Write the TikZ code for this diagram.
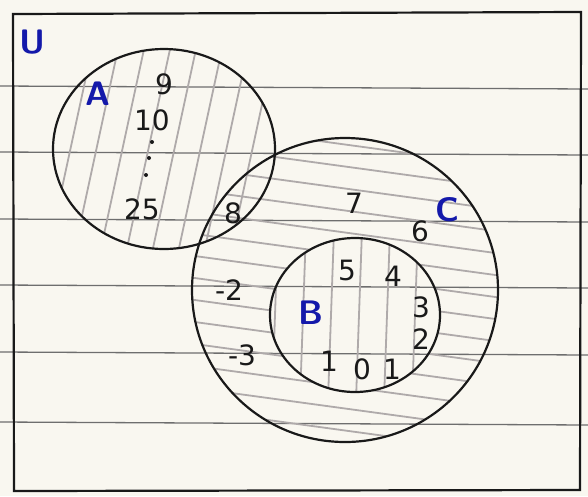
\documentclass[tikz,border=0pt]{standalone}
\usepackage{fontspec}
\newfontfamily\handfont{DejaVu Sans}
\usetikzlibrary{calc}
\definecolor{paper}{RGB}{249,247,240}
\definecolor{ink}{RGB}{25,25,25}
\definecolor{penblue}{RGB}{20,25,170}
\definecolor{rulegray}{RGB}{110,110,110}
\definecolor{hatchgray}{RGB}{175,170,170}
\tikzset{
  rule/.style={rulegray, line width=1.3pt},
  outline/.style={ink, line width=2.2pt},
  hatch/.style={hatchgray, line width=1.8pt},
  num/.style={ink, font=\fontsize{28}{28}\handfont, inner sep=0pt},
  setname/.style={penblue, font=\fontsize{34}{34}\selectfont\sffamily\bfseries, inner sep=0pt},
}
\begin{document}
\begin{tikzpicture}[x=1pt,y=-1pt]
\useasboundingbox (0,0) rectangle (588,496);
\fill[paper] (0,0) rectangle (588,496);
% ruled notebook lines
\foreach \yy in {86,152,219,285,352,422} \draw[rule] (0,\yy) -- (588,\yy+3);
% hatching of A
\begin{scope}
  \clip (164,149) ellipse [x radius=111pt, y radius=100pt];
  \foreach \xx in {20,46,...,320} \draw[hatch] (\xx,262) -- (\xx+48,40);
\end{scope}
% hatching of C without B
\begin{scope}[even odd rule]
  \clip (345,290) ellipse [x radius=153pt, y radius=152pt]
        (355,315) ellipse [x radius=85pt, y radius=77pt];
  \foreach \yy in {100,122,...,470} \draw[hatch] (180,\yy) -- (510,\yy+45);
\end{scope}
% hatching of B
\begin{scope}
  \clip (355,315) ellipse [x radius=85pt, y radius=77pt];
  \foreach \xx in {272,300,...,440} \draw[hatch] (\xx,400) -- (\xx+6,230);
\end{scope}
% universe
\draw[outline] (13,14) -- (581,12) -- (580,490) -- (14,491) -- cycle;
% sets
\draw[outline] (164,149) ellipse [x radius=111pt, y radius=100pt];
\draw[outline] (345,290) ellipse [x radius=153pt, y radius=152pt];
\draw[outline] (355,315) ellipse [x radius=85pt, y radius=77pt];
% set names
\node[setname] (U) at (32,42) {U};
\node[setname] (A) at (98,94) {A};
\node[setname] (B) at (311,313) {B};
\node[setname] (C) at (447,210) {C};
% elements
\node[num] (e9) at (164,84) {9};
\node[num] (e10) at (152,120) {10};
\fill[ink] (152,142) circle (2pt) (149,158) circle (2pt) (146,175) circle (2pt);
\node[num] (e25) at (142,209) {25};
\node[num] (e8) at (233,213) {8};
\node[num] (e7) at (354,203) {7};
\node[num] (e6) at (420,231) {6};
\node[num] (em2) at (229,290) {-2};
\node[num] (em3) at (242,355) {-3};
\node[num] (e5) at (347,270) {5};
\node[num] (e4) at (393,276) {4};
\node[num] (e3) at (421,307) {3};
\node[num] (e2) at (421,339) {2};
\node[num] (e1) at (329,361) {1};
\node[num] (e0) at (362,369) {0};
\node[num] (e1b) at (392,369) {1};
\end{tikzpicture}
\end{document}
